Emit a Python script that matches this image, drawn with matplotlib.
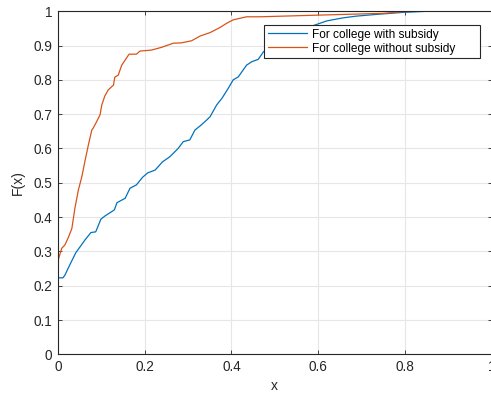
import numpy as np
import matplotlib
matplotlib.use("Agg")
import matplotlib.pyplot as plt

plt.rcParams['font.family'] = ['Liberation Sans', 'DejaVu Sans']

x_with = [0, 0, 0.0115, 0.016, 0.025, 0.041, 0.062, 0.076, 0.087, 0.099, 0.108,
          0.130, 0.136, 0.155, 0.166, 0.181, 0.195, 0.207, 0.224, 0.241, 0.258,
          0.277, 0.289, 0.304, 0.316, 0.328, 0.343, 0.351, 0.366, 0.378, 0.393,
          0.404, 0.416, 0.435, 0.447, 0.462, 0.474, 0.485, 0.52, 0.57, 0.620,
          0.658, 0.689, 0.735, 0.797, 0.85]
F_with = [0, 0.223, 0.223, 0.231, 0.255, 0.296, 0.333, 0.355, 0.357, 0.394, 0.403,
          0.421, 0.442, 0.455, 0.484, 0.494, 0.516, 0.529, 0.537, 0.561, 0.576,
          0.600, 0.620, 0.625, 0.654, 0.666, 0.683, 0.693, 0.727, 0.746, 0.776,
          0.800, 0.809, 0.843, 0.853, 0.860, 0.882, 0.892, 0.92, 0.95, 0.972,
          0.981, 0.986, 0.991, 0.997, 1.0]

x_without = [0, 0, 0.0085, 0.016, 0.024, 0.032, 0.039, 0.047, 0.055, 0.062, 0.070,
             0.078, 0.081, 0.089, 0.097, 0.101, 0.108, 0.116, 0.128, 0.131, 0.139,
             0.147, 0.155, 0.164, 0.181, 0.189, 0.216, 0.239, 0.266, 0.285, 0.308,
             0.328, 0.351, 0.374, 0.389, 0.404, 0.435, 0.466, 0.604, 0.75, 0.797,
             0.82, 0.927]
F_without = [0, 0.273, 0.309, 0.319, 0.341, 0.367, 0.426, 0.479, 0.518, 0.562, 0.610,
             0.654, 0.659, 0.678, 0.698, 0.727, 0.753, 0.771, 0.785, 0.808, 0.814,
             0.843, 0.858, 0.875, 0.875, 0.884, 0.887, 0.895, 0.907, 0.908, 0.914,
             0.928, 0.938, 0.953, 0.965, 0.975, 0.984, 0.984, 0.989, 0.994, 0.999,
             1.0, 1.0]

labels = ["For college with subsidy", "For college without subsidy"]
colors = ["#0072BD", "#D95319"]

fig = plt.figure(figsize=(4.91, 3.97), dpi=100)
ax = fig.add_axes([58 / 491, 1 - 354.3 / 397, 433.5 / 491, 343 / 397])

ax.plot(x_with, F_with, color=colors[0], lw=0.9, label=labels[0])
ax.plot(x_without, F_without, color=colors[1], lw=0.9, label=labels[1])

ax.set_xlim(0, 1)
ax.set_ylim(0, 1)
ax.set_xticks(np.arange(0, 1.01, 0.2))
ax.set_yticks(np.arange(0, 1.01, 0.1))
ax.set_xticklabels(["0", "0.2", "0.4", "0.6", "0.8", "1"])
ax.set_yticklabels(["0", "0.1", "0.2", "0.3", "0.4", "0.5", "0.6", "0.7", "0.8", "0.9", "1"])
ax.grid(True, color="#e6e6e6", lw=0.8)
ax.set_axisbelow(True)
ax.tick_params(direction='in', top=True, right=True, length=3, width=0.6,
               labelsize=9.8, colors="#262626", pad=4)
for s in ax.spines.values():
    s.set_color("#262626")
    s.set_linewidth(0.8)
ax.set_xlabel("x", fontsize=10, color="#262626", labelpad=4)
ax.set_ylabel("F(x)", fontsize=10, color="#262626", labelpad=6)

# legend box stretched to the width the reference uses
leg = ax.legend(loc='upper left', bbox_to_anchor=(0.4752, 0.0, 0.4983, 0.960),
                mode='expand', borderaxespad=0,
                prop={'size': 8.6}, handlelength=3.3, handletextpad=0.4, fancybox=False,
                framealpha=1, edgecolor="#262626", borderpad=0.3, labelspacing=0.17)
leg.get_frame().set_linewidth(0.8)

fig.savefig("out.png", dpi=100)
